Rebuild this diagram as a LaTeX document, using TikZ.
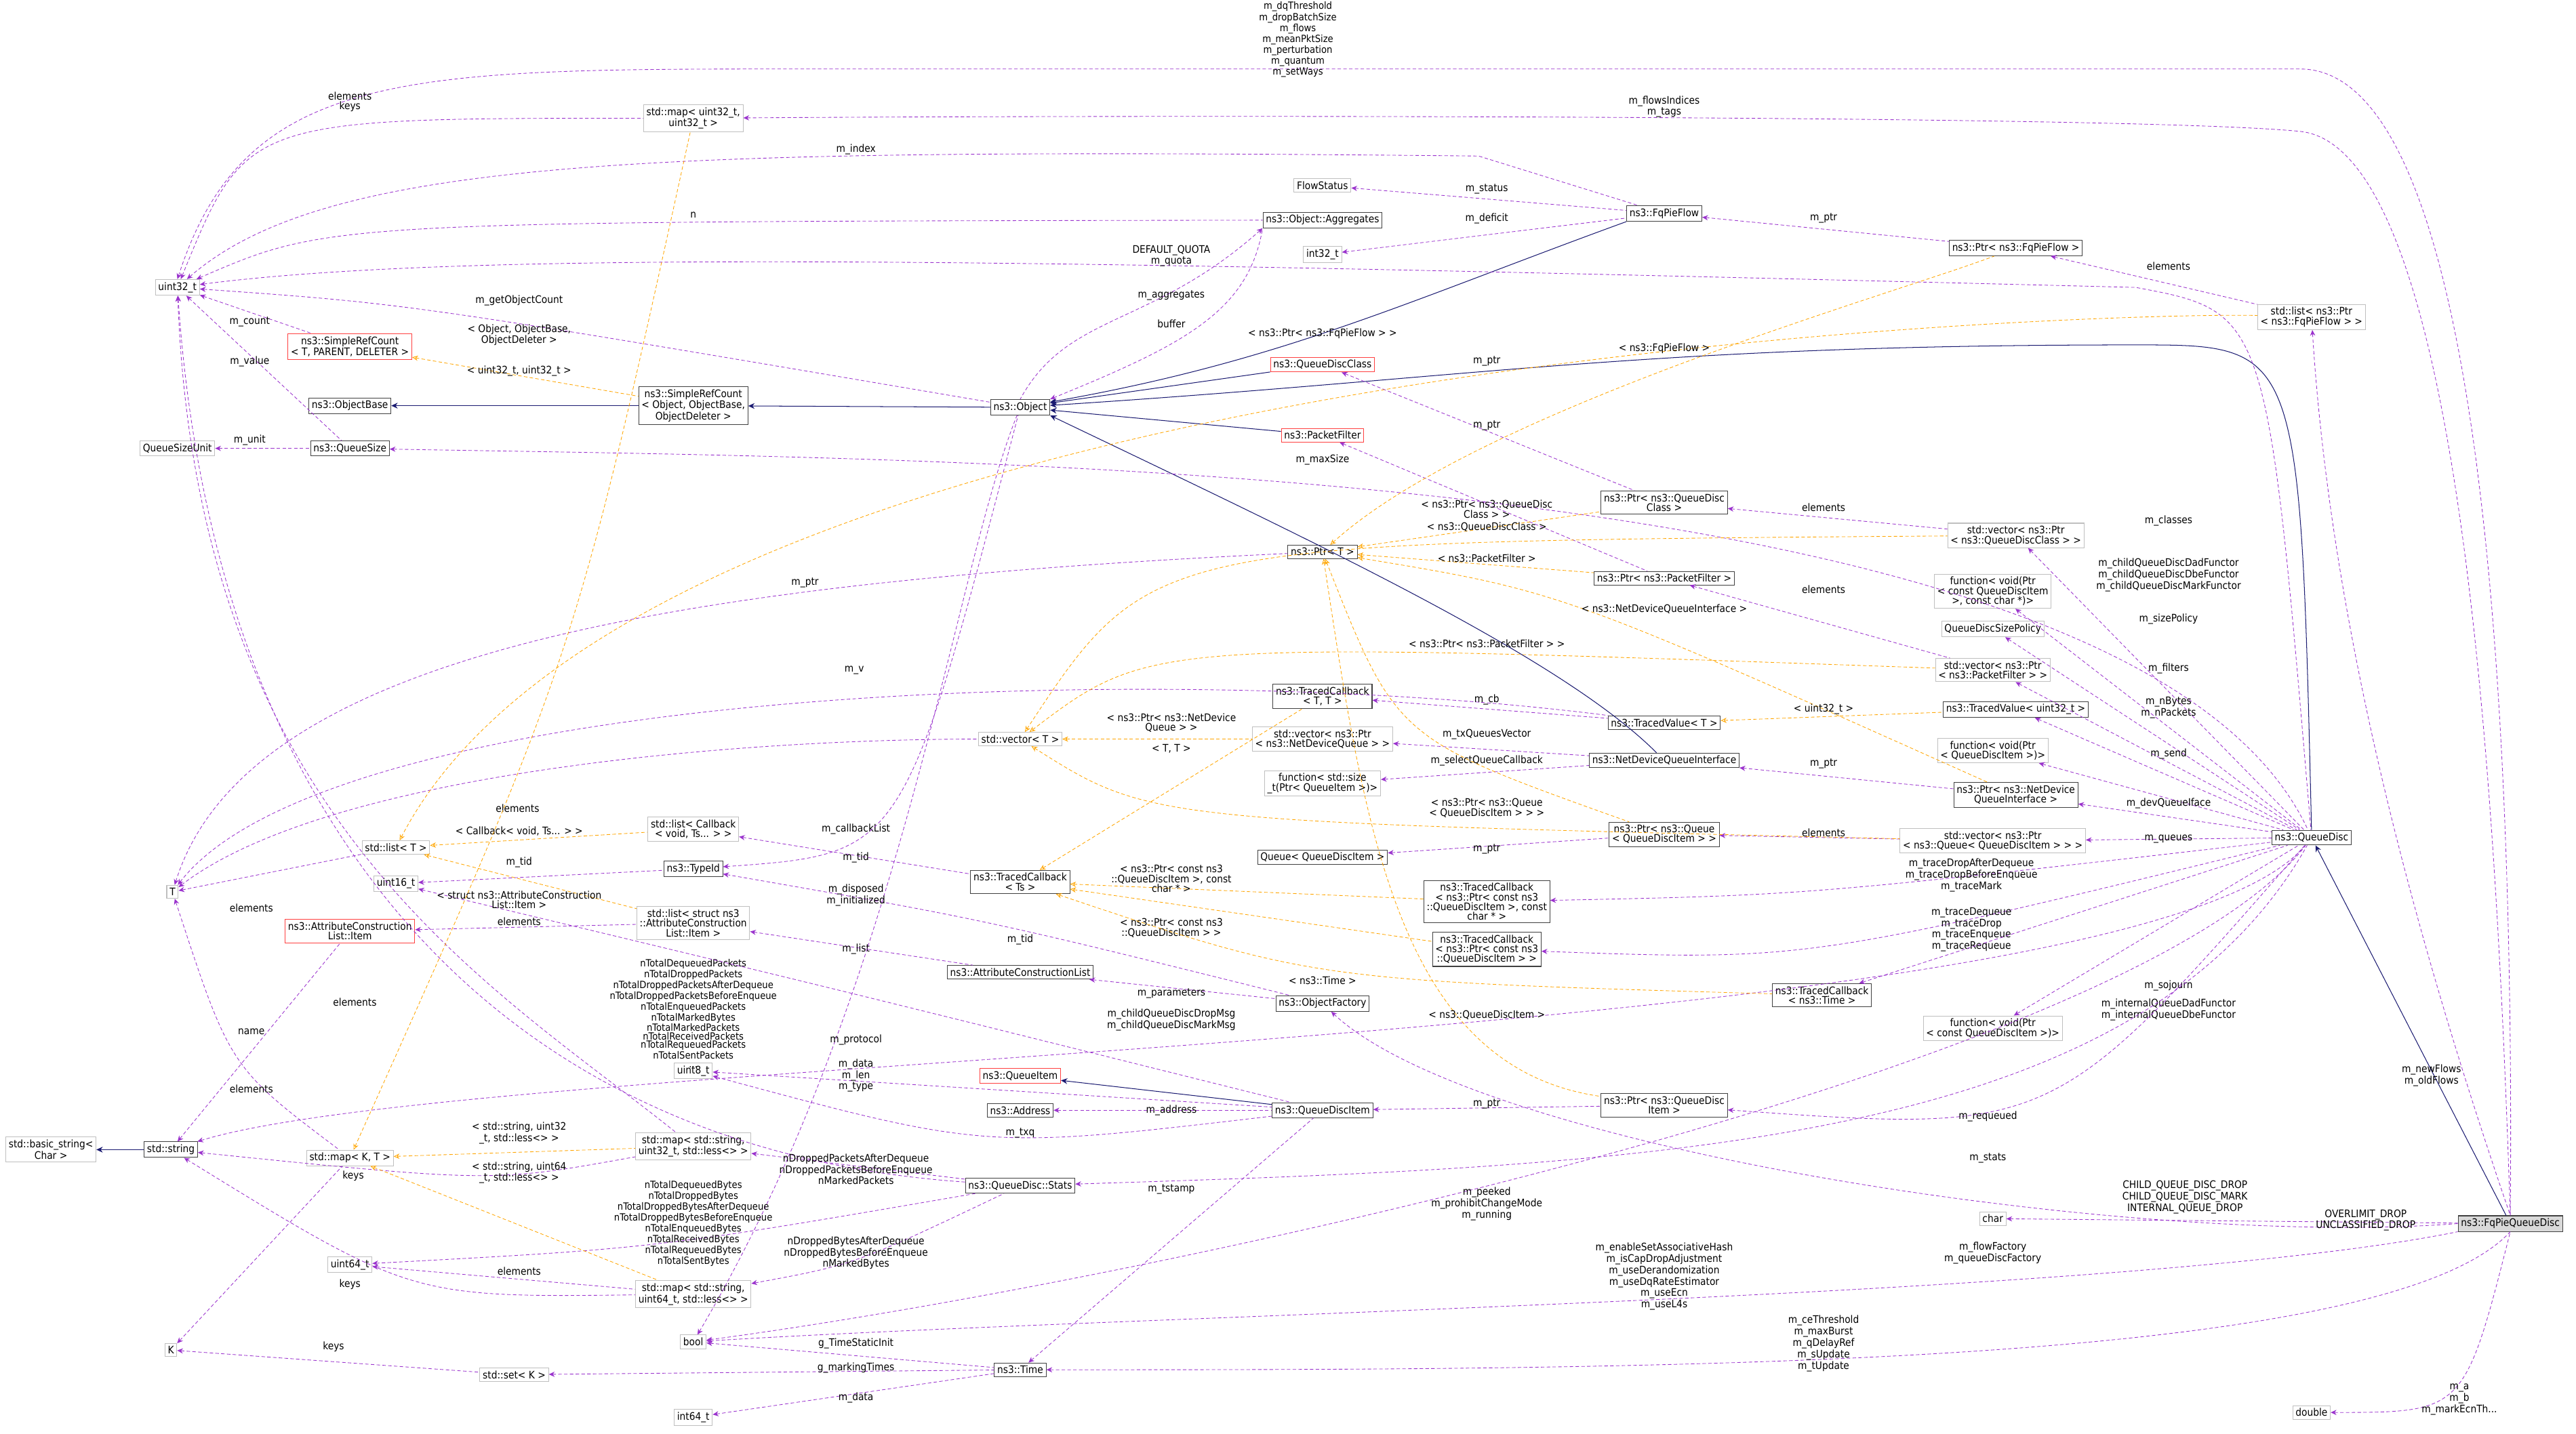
\documentclass[tikz,border=0pt]{standalone}
\usepackage{fontspec}
\setmainfont{DejaVu Sans Condensed}
\usetikzlibrary{arrows.meta}
\definecolor{usec}{HTML}{9A32CD}
\definecolor{tplc}{HTML}{FFA500}
\definecolor{inhc}{HTML}{191970}
\begin{document}
\begin{tikzpicture}[x=0.5mm,y=-0.5mm,
 every node/.style={font=\fontsize{9}{8.4}\selectfont},
 nd/.style={draw=black!75,line width=0.6pt,fill=white,inner xsep=2.5pt,inner ysep=2.4pt,align=center},
 ndg/.style={nd,draw=black!25},
 ndr/.style={nd,draw=red!75},
 use/.style={dashed,dash pattern=on 3pt off 2pt,color=usec,line width=0.5pt,{Stealth[length=5pt,width=4.5pt]}-},
 tpl/.style={use,color=tplc,{Stealth[open,length=5pt,width=4.5pt]}-},
 inh/.style={color=inhc,line width=0.6pt,{Stealth[length=5.5pt,width=5pt]}-},
 lbl/.style={align=center,inner sep=0pt},
 tight/.style={lbl,font=\fontsize{8.6}{7.3}\selectfont}]
\useasboundingbox (0,0) rectangle (1568,873);
% left column
\node[ndg] (u32) at (108,175) {uint32\_t};
\node[ndr] (src) at (213,211) {ns3::SimpleRefCount\\< T, PARENT, DELETER >};
\node[nd] (obase) at (213,247) {ns3::ObjectBase};
\node[ndg] (qsu) at (108,273) {QueueSizeUnit};
\node[nd] (qsize) at (213,273) {ns3::QueueSize};
\node[ndg] (T) at (105,543) {T};
\node[ndg] (listT) at (241,516) {std::list< T >};
\node[ndg] (u16) at (241,538) {uint16\_t};
\node[ndr] (acli) at (213,567) {ns3::AttributeConstruction\\List::Item};
\node[ndg] (bstr) at (31,700) {std::basic\_string<\\Char >};
\node[nd] (str) at (104,700) {std::string};
\node[ndg] (mapKT) at (213,705) {std::map< K, T >};
\node[ndg] (u64) at (213,770) {uint64\_t};
\node[ndg] (K) at (104,822) {K};
% second column
\node[ndg] (mapuu) at (422,72) {std::map< uint32\_t,\\uint32\_t >};
\node[nd] (srco) at (422,247) {ns3::SimpleRefCount\\< Object, ObjectBase,\\ObjectDeleter >};
\node[ndg] (listcb) at (422,505) {std::list< Callback\\< void, Ts... > >};
\node[nd] (tid) at (422,529) {ns3::TypeId};
\node[ndg] (listacl) at (422,562) {std::list< struct ns3\\::AttributeConstruction\\List::Item >};
\node[ndg] (u8) at (422,652) {uint8\_t};
\node[ndg] (mapsu32) at (422,698) {std::map< std::string,\\uint32\_t, std::less<> >};
\node[ndg] (mapsu64) at (422,788) {std::map< std::string,\\uint64\_t, std::less<> >};
\node[ndg] (bool) at (422,817) {bool};
\node[ndg] (setK) at (313,837) {std::set< K >};
\node[ndg] (i64) at (422,863) {int64\_t};
% third column
\node[ndg] (fstat) at (805,113) {FlowStatus};
\node[nd] (aggr) at (805,134) {ns3::Object::Aggregates};
\node[ndg] (i32) at (805,155) {int32\_t};
\node[nd] (obj) at (621,248) {ns3::Object};
\node[ndr] (qdc) at (805,222) {ns3::QueueDiscClass};
\node[ndr] (pf) at (805,265) {ns3::PacketFilter};
\node[nd] (ptrT) at (805,336) {ns3::Ptr< T >};
\node[nd] (tcTT) at (805,424) {ns3::TracedCallback\\< T, T >};
\node[ndg] (vecndq) at (805,450) {std::vector< ns3::Ptr\\< ns3::NetDeviceQueue > >};
\node[ndg] (fsize) at (805,477) {function< std::size\\\_t(Ptr< QueueItem >)>};
\node[nd] (queue) at (805,522) {Queue< QueueDiscItem >};
\node[ndr] (qitem) at (621,655) {ns3::QueueItem};
\node[nd] (addr) at (621,676) {ns3::Address};
\node[nd] (qdi) at (805,676) {ns3::QueueDiscItem};
\node[nd] (tcTs) at (621,537) {ns3::TracedCallback\\< Ts >};
\node[nd] (acl) at (621,592) {ns3::AttributeConstructionList};
\node[nd] (of) at (805,611) {ns3::ObjectFactory};
\node[nd] (stats) at (621,722) {ns3::QueueDisc::Stats};
\node[nd] (time) at (621,834) {ns3::Time};
\node[ndg] (vecT) at (621,450) {std::vector< T >};
% fourth column
\node[nd] (fqf) at (1013,130) {ns3::FqPieFlow};
\node[nd] (pqdc) at (1013,306) {ns3::Ptr< ns3::QueueDisc\\Class >};
\node[nd] (ppf) at (1013,352) {ns3::Ptr< ns3::PacketFilter >};
\node[nd] (tvT) at (1013,440) {ns3::TracedValue< T >};
\node[nd] (ndqi) at (1013,463) {ns3::NetDeviceQueueInterface};
\node[nd] (pq) at (1013,508) {ns3::Ptr< ns3::Queue\\< QueueDiscItem > >};
\node[nd] (tcpc) at (905,549) {ns3::TracedCallback\\< ns3::Ptr< const ns3\\::QueueDiscItem >, const\\char * >};
\node[nd] (tcp) at (905,578) {ns3::TracedCallback\\< ns3::Ptr< const ns3\\::QueueDiscItem > >};
\node[nd] (tct) at (1109,606) {ns3::TracedCallback\\< ns3::Time >};
\node[nd] (pqdi) at (1013,673) {ns3::Ptr< ns3::QueueDisc\\Item >};
% fifth column
\node[nd] (pfqf) at (1227,151) {ns3::Ptr< ns3::FqPieFlow >};
\node[ndg] (listfqf) at (1407,193) {std::list< ns3::Ptr\\< ns3::FqPieFlow > >};
\node[ndg] (vecqdc) at (1227,326) {std::vector< ns3::Ptr\\< ns3::QueueDiscClass > >};
\node[ndg] (fvc) at (1213,360) {function< void(Ptr\\< const QueueDiscItem\\>, const char *)>};
\node[ndg] (qdsp) at (1213,383) {QueueDiscSizePolicy};
\node[ndg] (vecpf) at (1213,408) {std::vector< ns3::Ptr\\< ns3::PacketFilter > >};
\node[nd] (tvu) at (1227,432) {ns3::TracedValue< uint32\_t >};
\node[ndg] (fvq) at (1213,457) {function< void(Ptr\\< QueueDiscItem >)>};
\node[nd] (pndqi) at (1227,484) {ns3::Ptr< ns3::NetDevice\\QueueInterface >};
\node[ndg] (vecq) at (1213,512) {std::vector< ns3::Ptr\\< ns3::Queue< QueueDiscItem > > >};
\node[nd] (qd) at (1407,510) {ns3::QueueDisc};
\node[ndg] (fvcq) at (1213,626) {function< void(Ptr\\< const QueueDiscItem >)>};
\node[ndg] (char) at (1213,742) {char};
\node[nd,fill=black!15] (fq) at (1528,745) {ns3::FqPieQueueDisc};
\node[ndg] (dbl) at (1407,860) {double};

% inheritance
\draw[inh] (obase) -- (srco);
\draw[inh] (srco) -- (obj);
\draw[inh] (obj) to[out=10,in=200] (fqf.south west);
\draw[inh] (obj) -- (qdc);
\draw[inh] (obj) -- (pf);
\draw[inh] (obj.south east) .. controls (800,330) and (950,400) .. (ndqi);
\draw[inh] (obj) .. controls (900,230) and (1000,210) .. (1300,210) .. controls (1400,210) .. (qd.north);
\draw[inh] (qitem) -- (qdi);
\draw[inh] (bstr) -- (str);
\draw[inh] (qd) -- (fq);

% usage edges
\draw[use] (u32.north) .. controls (150,40) and (250,42) .. (500,42) -- (1400,42) .. controls (1520,42) and (1530,500) .. (fq.north);
\node[tight] at (790,24) {m\_dqThreshold\\m\_dropBatchSize\\m\_flows\\m\_meanPktSize\\m\_perturbation\\m\_quantum\\m\_setWays};
\draw[use] (mapuu) .. controls (700,70) and (1300,70) .. (1400,80) .. controls (1500,90) and (1520,500) .. (fq.north);
\node[lbl] at (1013,65) {m\_flowsIndices\\m\_tags};
\draw[use] (u32) .. controls (150,72) .. (mapuu);
\node[lbl] at (213,62) {elements\\keys};
\draw[use] (u32) .. controls (200,95) and (400,90) .. (900,95) -- (fqf);
\node[lbl] at (521,91) {m\_index};
\draw[use] (u32) .. controls (200,135) .. (aggr);
\node[lbl] at (422,131) {n};
\draw[use] (u32) .. controls (300,150) and (700,160) .. (1300,175) .. controls (1380,190) .. (qd);
\node[lbl] at (713,156) {DEFAULT\_QUOTA\\m\_quota};
\draw[use] (u32) .. controls (250,185) .. (obj);
\node[lbl] at (316,183) {m\_getObjectCount};
\draw[use] (u32) -- (src);
\node[lbl] at (152,196) {m\_count};
\draw[use] (u32) -- (qsize);
\node[lbl] at (152,220) {m\_value};
\draw[use] (qsu) -- (qsize);
\node[lbl] at (152,268) {m\_unit};
\draw[use] (fstat) -- (fqf);
\node[lbl] at (905,115) {m\_status};
\draw[use] (i32) -- (fqf);
\node[lbl] at (905,133) {m\_deficit};
\draw[use] (aggr.south west) .. controls (700,200) and (650,190) .. (obj.north);
\node[lbl] at (713,180) {m\_aggregates};
\draw[use] (obj.north east) .. controls (720,210) and (760,190) .. (aggr.south west);
\node[lbl] at (713,197) {buffer};
\draw[use] (fqf) -- (pfqf);
\node[lbl] at (1110,133) {m\_ptr};
\draw[use] (pfqf) -- (listfqf);
\node[lbl] at (1320,162) {elements};
\draw[use] (listfqf) .. controls (1420,400) and (1480,600) .. (fq.north);
\node[lbl] at (1480,655) {m\_newFlows\\m\_oldFlows};
\draw[use] (qdc) -- (pqdc);
\node[lbl] at (905,220) {m\_ptr};
\draw[use] (pf) -- (ppf);
\node[lbl] at (905,259) {m\_ptr};
\draw[use] (qsize) .. controls (600,280) and (1300,280) .. (qd);
\node[lbl] at (805,280) {m\_maxSize};
\draw[use] (T) .. controls (150,400) and (400,355) .. (ptrT);
\node[lbl] at (490,355) {m\_ptr};
\draw[use] (pqdc) -- (vecqdc);
\node[lbl] at (1110,309) {elements};
\draw[use] (vecqdc) -- (qd);
\node[lbl] at (1320,317) {m\_classes};
\draw[use] (fvc) -- (qd);
\node[lbl] at (1320,350) {m\_childQueueDiscDadFunctor\\m\_childQueueDiscDbeFunctor\\m\_childQueueDiscMarkFunctor};
\draw[use] (qdsp) -- (qd);
\node[lbl] at (1320,377) {m\_sizePolicy};
\draw[use] (ppf) -- (vecpf);
\node[lbl] at (1110,359) {elements};
\draw[use] (vecpf) -- (qd);
\node[lbl] at (1320,407) {m\_filters};
\draw[use] (T) .. controls (200,420) and (700,400) .. (tvT);
\node[lbl] at (520,408) {m\_v};
\draw[use] (tvu) -- (qd);
\node[lbl] at (1320,431) {m\_nBytes\\m\_nPackets};
\draw[use] (tcTT) -- (tvT);
\node[lbl] at (905,426) {m\_cb};
\draw[use] (vecndq) -- (ndqi);
\node[lbl] at (905,447) {m\_txQueuesVector};
\draw[use] (fsize) -- (ndqi);
\node[lbl] at (905,463) {m\_selectQueueCallback};
\draw[use] (fvq) -- (qd);
\node[lbl] at (1320,459) {m\_send};
\draw[use] (ndqi) -- (pndqi);
\node[lbl] at (1110,465) {m\_ptr};
\draw[use] (pndqi) -- (qd);
\node[lbl] at (1320,489) {m\_devQueueIface};
\draw[use] (T) .. controls (200,470) and (450,450) .. (vecT);
\node[lbl] at (315,492) {elements};
\draw[use] (queue) -- (pq);
\node[lbl] at (905,517) {m\_ptr};
\draw[use] (pq) -- (vecq);
\node[lbl] at (1110,507) {elements};
\draw[use] (vecq) -- (qd);
\node[lbl] at (1320,511) {m\_queues};
\draw[use] (tcpc) .. controls (1100,545) .. (qd);
\node[lbl] at (1200,533) {m\_traceDropAfterDequeue\\m\_traceDropBeforeEnqueue\\m\_traceMark};
\draw[use] (tcp) .. controls (1100,585) .. (qd);
\node[lbl] at (1200,566) {m\_traceDequeue\\m\_traceDrop\\m\_traceEnqueue\\m\_traceRequeue};
\draw[use] (listcb) -- (tcTs);
\node[lbl] at (521,505) {m\_callbackList};
\draw[use] (tid) .. controls (550,520) .. (obj);
\node[lbl] at (521,522) {m\_tid};
\draw[use] (u16) -- (tid);
\node[lbl] at (316,525) {m\_tid};
\draw[use] (T) -- (listT);
\node[lbl] at (153,553) {elements};
\draw[use] (acli) -- (listacl);
\node[lbl] at (316,561) {elements};
\draw[use] (listacl) -- (acl);
\node[lbl] at (521,578) {m\_list};
\draw[use] (tid) .. controls (600,560) .. (of);
\node[lbl] at (621,572) {m\_tid};
\draw[use] (acl) -- (of);
\node[lbl] at (713,605) {m\_parameters};
\draw[use] (of) .. controls (900,700) and (1300,760) .. (fq.west);
\node[lbl] at (1213,763) {m\_flowFactory\\m\_queueDiscFactory};
\draw[use] (tct) -- (qd);
\node[lbl] at (1320,600) {m\_sojourn};
\draw[use] (fvcq) -- (qd);
\node[lbl] at (1320,615) {m\_internalQueueDadFunctor\\m\_internalQueueDbeFunctor};
\draw[use] (pqdi) .. controls (1250,690) .. (qd);
\node[lbl] at (1210,680) {m\_requeued};
\draw[use] (qdi) -- (pqdi);
\node[lbl] at (905,672) {m\_ptr};
\draw[use] (u8) -- (qdi);
\node[lbl] at (521,655) {m\_data\\m\_len\\m\_type};
\draw[use] (addr) -- (qdi);
\node[lbl] at (713,676) {m\_address};
\draw[use] (time) -- (qdi);
\node[lbl] at (713,724) {m\_tstamp};
\draw[use] (stats) .. controls (1000,710) and (1300,700) .. (qd);
\node[lbl] at (1210,705) {m\_stats};
\draw[use] (bool) .. controls (700,780) and (1300,650) .. (qd);
\node[lbl] at (905,733) {m\_peeked\\m\_prohibitChangeMode\\m\_running};
\draw[use] (bool) .. controls (700,800) and (1300,790) .. (fq.south west);
\node[lbl] at (1013,777) {m\_enableSetAssociativeHash\\m\_isCapDropAdjustment\\m\_useDerandomization\\m\_useDqRateEstimator\\m\_useEcn\\m\_useL4s};
\draw[use] (bool) .. controls (550,600) and (580,350) .. (obj);
\node[lbl] at (521,545) {m\_disposed\\m\_initialized};
\draw[use] (time) .. controls (1000,834) and (1450,834) .. (fq.south);
\node[lbl] at (1110,818) {m\_ceThreshold\\m\_maxBurst\\m\_qDelayRef\\m\_sUpdate\\m\_tUpdate};
\draw[use] (bool) -- (time);
\node[lbl] at (521,818) {g\_TimeStaticInit};
\draw[use] (setK) -- (time);
\node[lbl] at (521,833) {g\_markingTimes};
\draw[use] (i64) -- (time);
\node[lbl] at (521,851) {m\_data};
\draw[use] (K) -- (setK);
\node[lbl] at (203,820) {keys};
\draw[use] (char) -- (fq);
\node[lbl] at (1330,729) {CHILD\_QUEUE\_DISC\_DROP\\CHILD\_QUEUE\_DISC\_MARK\\INTERNAL\_QUEUE\_DROP};
\node[lbl] at (1440,743) {OVERLIMIT\_DROP\\UNCLASSIFIED\_DROP};
\draw[use] (dbl) .. controls (1500,860) .. (fq.south);
\node[lbl] at (1497,852) {m\_a\\m\_b\\m\_markEcnTh...};
\draw[use] (str) .. controls (300,640) and (1300,640) .. (qd);
\node[lbl] at (713,621) {m\_childQueueDiscDropMsg\\m\_childQueueDiscMarkMsg};
\draw[use] (str) -- (acli);
\node[lbl] at (153,628) {name};
\draw[use] (K) -- (mapKT);
\node[lbl] at (215,716) {keys};
\draw[use] (str) .. controls (250,790) .. (mapsu64);
\node[lbl] at (213,782) {keys};
\draw[use] (str) .. controls (300,720) .. (mapsu32);
\draw[use] (u32) .. controls (120,500) and (300,600) .. (mapsu32);
\node[lbl] at (216,610) {elements};
\draw[use] (T) .. controls (140,650) .. (mapKT);
\node[lbl] at (153,663) {elements};
\draw[use] (u64) -- (mapsu64);
\node[lbl] at (316,774) {elements};
\draw[use] (u64) .. controls (400,760) .. (stats);
\node[tight] at (422,745) {nTotalDequeuedBytes\\nTotalDroppedBytes\\nTotalDroppedBytesAfterDequeue\\nTotalDroppedBytesBeforeEnqueue\\nTotalEnqueuedBytes\\nTotalReceivedBytes\\nTotalRequeuedBytes\\nTotalSentBytes};
\draw[use] (mapsu64) .. controls (520,770) .. (stats);
\node[lbl] at (521,763) {nDroppedBytesAfterDequeue\\nDroppedBytesBeforeEnqueue\\nMarkedBytes};
\draw[use] (u32) .. controls (130,500) and (300,700) .. (stats);
\node[tight] at (422,617) {nTotalDequeuedPackets\\nTotalDroppedPackets\\nTotalDroppedPacketsAfterDequeue\\nTotalDroppedPacketsBeforeEnqueue\\nTotalEnqueuedPackets\\nTotalMarkedBytes\\nTotalMarkedPackets\\nTotalReceivedPackets\\nTotalRequeuedPackets\\nTotalSentPackets\\...};
\draw[use] (mapsu32) -- (stats);
\node[lbl] at (521,712) {nDroppedPacketsAfterDequeue\\nDroppedPacketsBeforeEnqueue\\nMarkedPackets};
\draw[use] (u16) .. controls (500,600) .. (qdi);
\node[lbl] at (521,633) {m\_protocol};
\draw[use] (u8) .. controls (600,700) .. (qdi);
\node[lbl] at (621,690) {m\_txq};

% template edges
\draw[tpl] (listT) .. controls (400,210) and (1300,190) .. (listfqf);
\node[lbl] at (805,203) {< ns3::Ptr< ns3::FqPieFlow > >};
\draw[tpl] (ptrT) .. controls (900,250) and (1150,180) .. (pfqf);
\node[lbl] at (1013,212) {< ns3::FqPieFlow >};
\draw[tpl] (src) -- (srco);
\node[lbl] at (316,204) {< Object, ObjectBase,\\ObjectDeleter >};
\draw[tpl] (listT) -- (listcb);
\node[lbl] at (316,506) {< Callback< void, Ts... > >};
\draw[tpl] (listT) -- (listacl);
\node[lbl] at (316,548) {< struct ns3::AttributeConstruction\\List::Item >};
\draw[tpl] (mapKT) .. controls (350,400) .. (mapuu);
\node[lbl] at (316,226) {< uint32\_t, uint32\_t >};
\draw[tpl] (mapKT) -- (mapsu32);
\node[lbl] at (316,690) {< std::string, uint32\\\_t, std::less<> >};
\draw[tpl] (mapKT) -- (mapsu64);
\node[lbl] at (316,714) {< std::string, uint64\\\_t, std::less<> >};
\draw[tpl] (ptrT) -- (pqdc);
\node[lbl] at (905,321) {< ns3::QueueDiscClass >};
\draw[tpl] (ptrT) -- (ppf);
\node[lbl] at (905,340) {< ns3::PacketFilter >};
\draw[tpl] (ptrT) .. controls (950,360) .. (pndqi);
\node[lbl] at (1013,371) {< ns3::NetDeviceQueueInterface >};
\draw[tpl] (ptrT) .. controls (850,450) .. (pq);
\draw[tpl] (ptrT) .. controls (830,500) and (850,650) .. (pqdi);
\node[lbl] at (905,618) {< ns3::QueueDiscItem >};
\draw[tpl] (vecT) .. controls (700,330) .. (vecqdc);
\node[lbl] at (905,310) {< ns3::Ptr< ns3::QueueDisc\\Class > >};
\draw[tpl] (vecT) .. controls (700,390) .. (vecpf);
\node[lbl] at (905,392) {< ns3::Ptr< ns3::PacketFilter > >};
\draw[tpl] (vecT) -- (vecndq);
\node[lbl] at (713,440) {< ns3::Ptr< ns3::NetDevice\\Queue > >};
\draw[tpl] (vecT) .. controls (700,500) .. (vecq);
\node[lbl] at (905,492) {< ns3::Ptr< ns3::Queue\\< QueueDiscItem > > >};
\draw[tpl] (tvT) -- (tvu);
\node[lbl] at (1110,432) {< uint32\_t >};
\draw[tpl] (tcTs) -- (tcTT);
\node[lbl] at (713,456) {< T, T >};
\draw[tpl] (tcTs) -- (tcpc);
\node[lbl] at (713,535) {< ns3::Ptr< const ns3\\::QueueDiscItem >, const\\char * >};
\draw[tpl] (tcTs) -- (tcp);
\node[lbl] at (713,565) {< ns3::Ptr< const ns3\\::QueueDiscItem > >};
\draw[tpl] (tcTs) .. controls (800,597) .. (tct);
\node[lbl] at (805,597) {< ns3::Time >};
\end{tikzpicture}
\end{document}
